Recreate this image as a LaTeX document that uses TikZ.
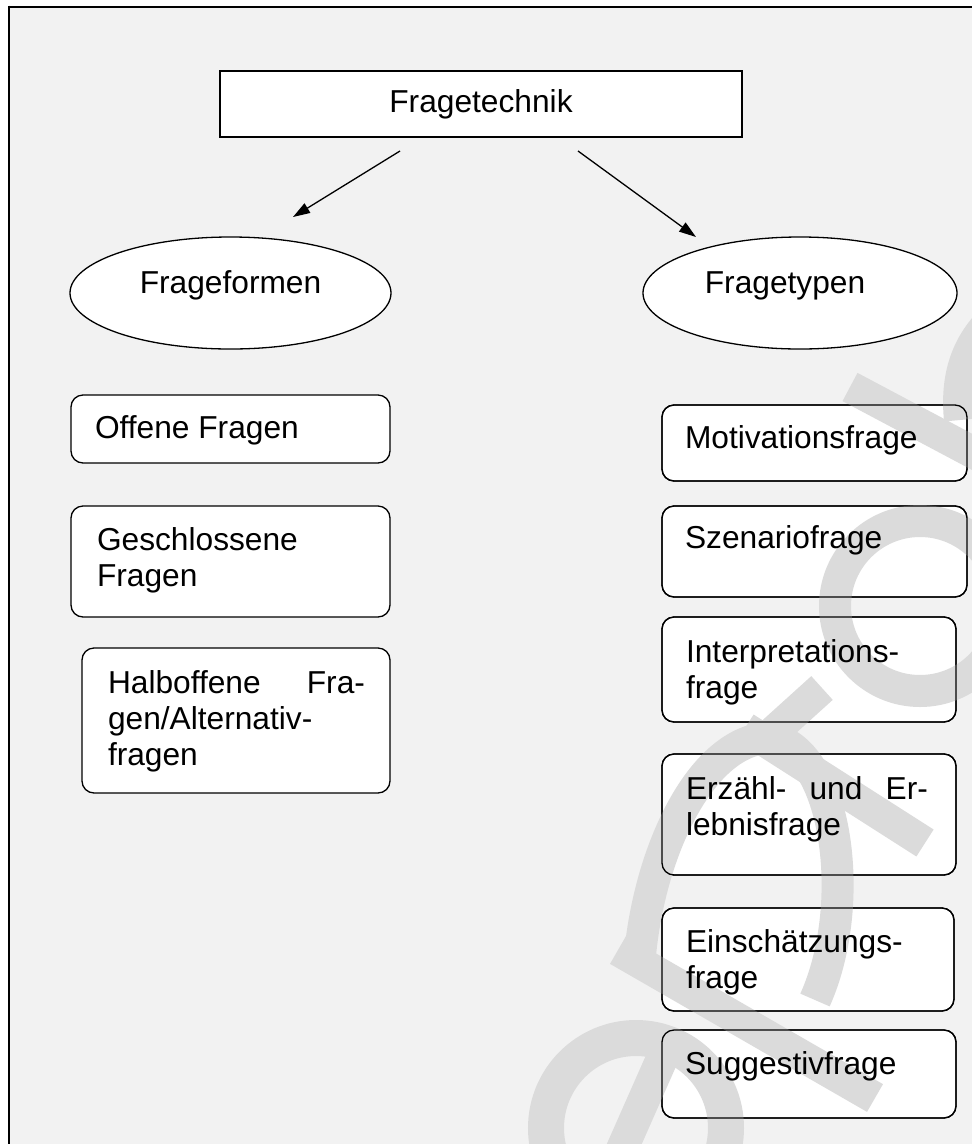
\documentclass[tikz,border=0pt]{standalone}
\usepackage{fontspec}
\setmainfont{Liberation Sans}
\usetikzlibrary{shapes.geometric,arrows.meta,calc}
\definecolor{bgc}{RGB}{242,242,242}
\definecolor{wmc}{RGB}{219,219,219}
\newcommand\mystrut{\rule{0pt}{26pt}}
\begin{document}
\begin{tikzpicture}[x=1pt,y=-1pt,
  lbl/.style={font=\fontsize{31.7}{36}\selectfont, inner sep=0pt, outer sep=0pt, align=left},
  rbox/.style={draw, line width=1.3pt, fill=white, rounded corners=12pt, inner sep=0pt, outer sep=0pt},
  sbox/.style={draw, line width=1.3pt, fill=white, inner sep=0pt, outer sep=0pt, font=\fontsize{31.7}{36}\selectfont},
  ell/.style={ellipse, draw, line width=1.3pt, fill=white, inner sep=0pt, outer sep=0pt},
  arr/.style={line width=1.3pt, -{Triangle[length=17pt,width=11pt]}},
  outline/.style={line width=1.3pt, rounded corners=12pt}]
\useasboundingbox (0,0) rectangle (972,1144);
% page background and frame
\fill[white] (0,0) rectangle (972,1144);
\fill[bgc] (9,6.5) rectangle (972,1144);
\draw[line width=2pt] (972,6.5) -- (8.2,6.5);
\draw[line width=1.6pt] (9,5.5) -- (9,1144);
% top node
\node[sbox, minimum width=522pt, minimum height=66pt] (tech) at (481,104) {Fragetechnik};
% ellipses
\node[ell, minimum width=321pt, minimum height=112pt] (ffo) at (230.5,293) {};
\node[ell, minimum width=314pt, minimum height=112pt] (fty) at (800,293) {};
% left boxes
\node[rbox, minimum width=319pt, minimum height=68pt]  (off) at (230.5,429) {};
\node[rbox, minimum width=319pt, minimum height=111pt] (ges) at (230.5,561.5) {};
\node[rbox, minimum width=308pt, minimum height=145pt] (hal) at (236,720.5) {};
% right boxes
\node[rbox, minimum width=305pt, minimum height=76pt]  (mot) at (814.5,443) {};
\node[rbox, minimum width=305pt, minimum height=91pt]  (sze) at (814.5,551.5) {};
\node[rbox, minimum width=294pt, minimum height=105pt] (int) at (809,669.5) {};
\node[rbox, minimum width=294pt, minimum height=121pt] (erz) at (809,814.5) {};
\node[rbox, minimum width=292pt, minimum height=103pt] (ein) at (808,959.5) {};
\node[rbox, minimum width=294pt, minimum height=88pt]  (sug) at (809,1074) {};
% watermark
\begin{scope}[wmc, line width=32pt]
\draw (850,387) -- (1010,472);
\draw (990,322) .. controls (965,348) and (956,380) .. (960,420);
\draw (920,606) circle[radius=85];
\draw (745,728) -- (925,843);
\draw (770,735) -- (822,688);
\draw (640,955) .. controls (650,850) and (700,745) .. (765,738) .. controls (835,740) and (860,900) .. (815,1000);
\draw (618,950) -- (875,1098);
\draw[line width=36pt] (636,1128) circle[radius=90];
\draw (615,1165) -- (668,1045);
\end{scope}
\foreach \n in {mot,sze,int,erz,ein,sug}
  \draw[outline] (\n.north west) rectangle (\n.south east);
% texts
\node[lbl, anchor=base] (ffo-t) at (ffo.center) {Frageformen};
\node[lbl, anchor=base] (fty-t) at ($(fty.center)+(-15,0)$) {Fragetypen};
\node[lbl, anchor=north west] (off-t) at ($(off.north west)+(24,17)$) {\mystrut Offene Fragen};
\node[lbl, anchor=north west] (ges-t) at ($(ges.north west)+(26,18)$) {\mystrut Geschlossene\\Fragen};
\node[lbl, anchor=north west] (hal-t) at ($(hal.north west)+(26,19)$) {\mystrut\hbox to 257pt{Halboffene\hfill Fra-}\\gen/Alternativ-\\fragen};
\node[lbl, anchor=north west] (mot-t) at ($(mot.north west)+(23,17)$) {\mystrut Motivationsfrage};
\node[lbl, anchor=north west] (sze-t) at ($(sze.north west)+(23,16)$) {\mystrut Szenariofrage};
\node[lbl, anchor=north west] (int-t) at ($(int.north west)+(24,19)$) {\mystrut Interpretations-\\frage};
\node[lbl, anchor=north west] (erz-t) at ($(erz.north west)+(24,19)$) {\mystrut\hbox to 242pt{Erzähl-\hfill und\hfill Er-}\\lebnisfrage};
\node[lbl, anchor=north west] (ein-t) at ($(ein.north west)+(24,18)$) {\mystrut Einschätzungs-\\frage};
\node[lbl, anchor=north west] (sug-t) at ($(sug.north west)+(23,18)$) {\mystrut Suggestivfrage};
% arrows
\coordinate (a1s) at (400,151);
\coordinate (a1e) at (293,217);
\coordinate (a2s) at (578,151);
\coordinate (a2e) at (696,237);
\draw[arr] (a1s) -- (a1e);
\draw[arr] (a2s) -- (a2e);
\end{tikzpicture}
\end{document}
